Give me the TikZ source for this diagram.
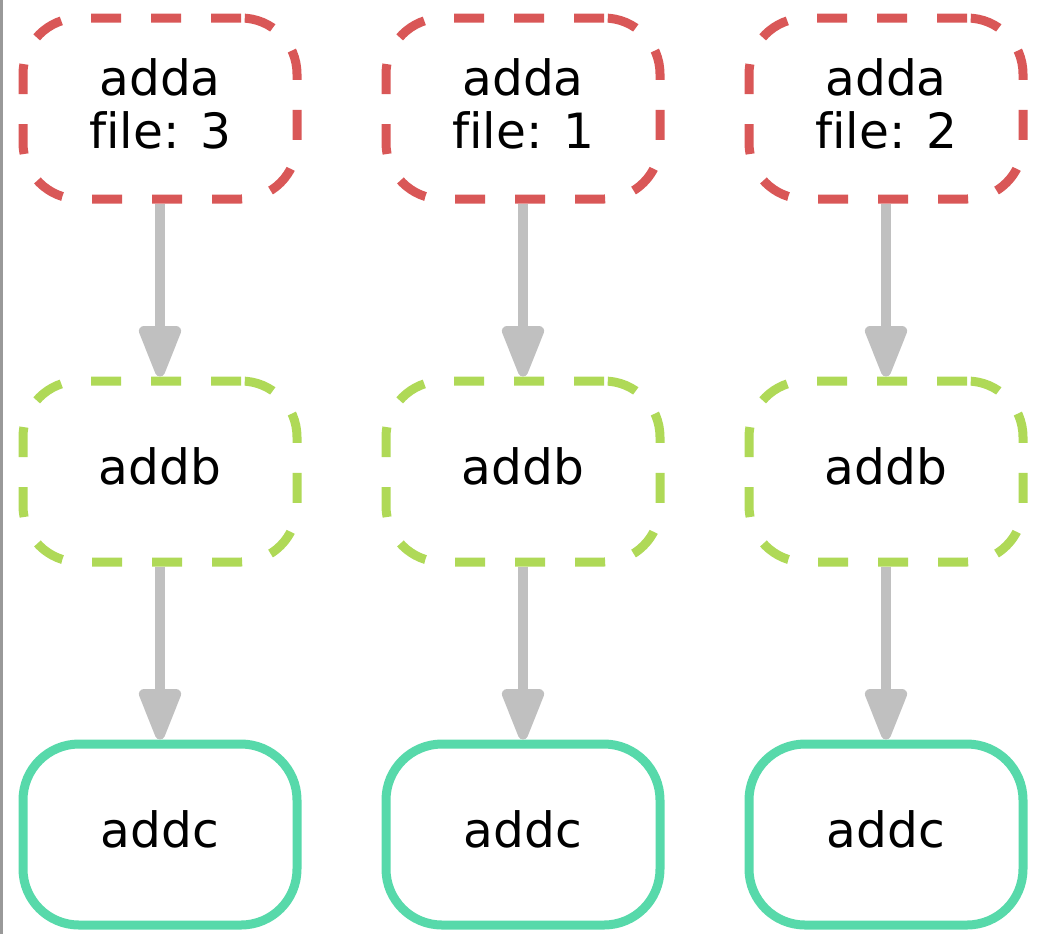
\documentclass[tikz,border=0pt]{standalone}
\usepackage{fontspec}
\setmainfont{DejaVu Sans}[Ligatures=NoCommon]
\usepackage{tikz}
\usetikzlibrary{positioning, arrows.meta}
\definecolor{rojo}{RGB}{217,87,87}
\definecolor{verde}{RGB}{175,217,87}
\definecolor{turquesa}{RGB}{87,217,170}
\definecolor{gris}{RGB}{192,192,192}
\tikzset{
    base/.style={rectangle, rounded corners=28pt, line width=4.5pt, fill=white, align=center, minimum width=137pt, minimum height=90.5pt, text depth=5pt, font=\fontsize{24.3}{26.8}\selectfont},
    box_adda/.style={base, draw=rojo, dash pattern=on 15pt off 15pt},
    box_addb/.style={base, draw=verde, dash pattern=on 15pt off 15pt},
    box_addc/.style={base, draw=turquesa},
    flecha/.style={draw=gris, line width=5pt, -{Triangle[width=22pt, length=30pt, round]}}
}

\begin{document}
\begin{tikzpicture}[node distance=86.5pt and 40pt]
    \useasboundingbox (0,0) rectangle (519.5pt,-467pt);
    % Linea gris del borde izquierdo
    \draw[gray!80, line width=1.5pt] (0.75pt,0) -- (0.75pt,-467pt);

    % 1. Fila superior
    \node[box_adda] (a3) at (80pt,-54.25pt) {adda\\file: 3};
    \node[box_adda, right=of a3] (a1) {adda\\file: 1};
    \node[box_adda, right=of a1] (a2) {adda\\file: 2};

    % 2. Fila del medio
    \node[box_addb, below=of a3] (b3) {addb};
    \node[box_addb, below=of a1] (b1) {addb};
    \node[box_addb, below=of a2] (b2) {addb};

    % 3. Fila inferior
    \node[box_addc, below=of b3] (c3) {addc};
    \node[box_addc, below=of b1] (c1) {addc};
    \node[box_addc, below=of b2] (c2) {addc};

    % --- CONEXIONES ---
    \foreach \i in {3,1,2} {
        \draw[flecha] (a\i) -- (b\i);
        \draw[flecha] (b\i) -- (c\i);
    }
\end{tikzpicture}
\end{document}
